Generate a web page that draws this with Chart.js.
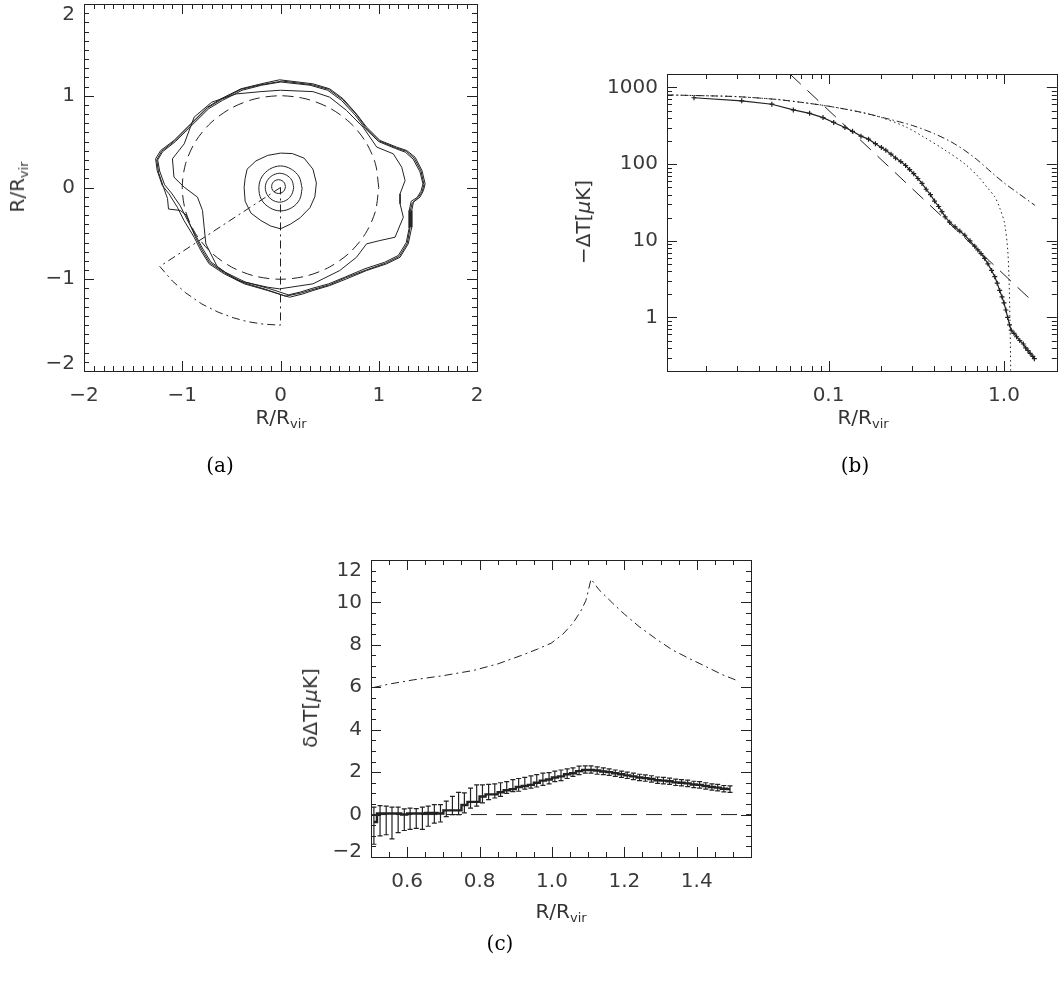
<!DOCTYPE html>
<html>
<head>
<meta charset="utf-8">
<script src="https://cdn.jsdelivr.net/npm/chart.js@4.4.0/dist/chart.umd.min.js"></script>
<style>
  body { margin: 0; background: #fff; width: 1062px; height: 997px; position: relative; overflow: hidden;
         font-family: "DejaVu Sans", sans-serif; color: #333; }
  canvas { position: absolute; }
  .lbl { position: absolute; font-size: 20px; white-space: nowrap; transform: translate(-50%, -50%); }
  .rot { transform: translate(-50%, -50%) rotate(-90deg); }
  .pan { position: absolute; font-family: "DejaVu Serif", serif; font-size: 20px; color: #000; transform: translate(-50%, -50%); }
  sub { font-size: 13px; vertical-align: -4px; }
</style>
</head>
<body>
<canvas id="chartA" width="500" height="430" style="left:0;top:0;width:500px;height:430px"></canvas>
<canvas id="chartB" width="522" height="430" style="left:540px;top:0;width:522px;height:430px"></canvas>
<canvas id="chartC" width="540" height="470" style="left:240px;top:460px;width:540px;height:470px"></canvas>

<div class="lbl" style="left:281px;top:418px">R/R<sub>vir</sub></div>
<div class="lbl rot" style="left:18px;top:187px">R/R<sub>vir</sub></div>
<div class="lbl" style="left:863px;top:418px">R/R<sub>vir</sub></div>
<div class="lbl rot" style="left:583px;top:222px">&minus;&Delta;T[<i>&mu;</i>K]</div>
<div class="lbl" style="left:561px;top:912px">R/R<sub>vir</sub></div>
<div class="lbl rot" style="left:310px;top:708px">&delta;&Delta;T[<i>&mu;</i>K]</div>

<div class="pan" style="left:220px;top:465px">(a)</div>
<div class="pan" style="left:855px;top:465px">(b)</div>
<div class="pan" style="left:500px;top:943px">(c)</div>

<script>
// ---- (a) contornos del mapa, en unidades de R/Rvir ----
const contour1 = [[-0.01,1.174],[0.33,1.13],[0.5,1.076],[0.637,0.967],[0.774,0.8],[0.876,0.658],[1.012,0.513],[1.183,0.44],[1.285,0.403],[1.37,0.33],[1.44,0.185],[1.472,0.04],[1.455,-0.033],[1.42,-0.105],[1.353,-0.16],[1.336,-0.25],[1.336,-0.433],[1.3,-0.614],[1.217,-0.76],[1.08,-0.832],[0.876,-0.905],[0.672,-0.996],[0.5,-1.069],[0.33,-1.123],[0.228,-1.16],[0.092,-1.196],[-0.13,-1.123],[-0.368,-1.05],[-0.573,-0.941],[-0.726,-0.832],[-0.811,-0.687],[-0.879,-0.542],[-0.982,-0.36],[-1.05,-0.215],[-1.135,-0.069],[-1.203,0.022],[-1.255,0.185],[-1.271,0.313],[-1.22,0.403],[-1.084,0.513],[-0.913,0.695],[-0.743,0.876],[-0.606,0.967],[-0.402,1.076],[-0.197,1.13],[-0.01,1.174]];
const contour2 = [[0.0,1.15],[0.3,1.115],[0.48,1.06],[0.62,0.95],[0.76,0.79],[0.86,0.645],[1.0,0.5],[1.17,0.425],[1.27,0.385],[1.35,0.31],[1.42,0.17],[1.45,0.04],[1.43,-0.04],[1.39,-0.11],[1.33,-0.15],[1.31,-0.25],[1.31,-0.44],[1.28,-0.6],[1.2,-0.74],[1.06,-0.815],[0.86,-0.885],[0.66,-0.975],[0.49,-1.05],[0.32,-1.1],[0.2,-1.14],[0.08,-1.17],[-0.12,-1.1],[-0.36,-1.03],[-0.56,-0.925],[-0.71,-0.81],[-0.79,-0.67],[-0.86,-0.53],[-0.95,-0.35],[-1.02,-0.2],[-1.11,-0.06],[-1.18,0.03],[-1.23,0.18],[-1.25,0.3],[-1.2,0.39],[-1.07,0.5],[-0.9,0.68],[-0.73,0.86],[-0.59,0.95],[-0.39,1.06],[-0.19,1.115],[0.0,1.15]];
const contour3 = [[0.02,1.16],[0.32,1.12],[0.49,1.07],[0.63,0.96],[0.77,0.8],[0.87,0.65],[1.01,0.505],[1.18,0.43],[1.28,0.395],[1.36,0.32],[1.43,0.18],[1.46,0.03],[1.44,-0.05],[1.4,-0.11],[1.34,-0.17],[1.32,-0.26],[1.32,-0.43],[1.29,-0.61],[1.21,-0.75],[1.07,-0.825],[0.87,-0.9],[0.66,-0.985],[0.5,-1.06],[0.32,-1.115],[0.21,-1.15],[0.05,-1.185],[-0.15,-1.11],[-0.37,-1.04],[-0.57,-0.93],[-0.72,-0.82],[-0.8,-0.68],[-0.87,-0.53],[-0.93,-0.38],[-0.96,-0.3],[-1.02,-0.25],[-1.14,-0.235],[-1.15,-0.12],[-1.19,0.0],[-1.24,0.16],[-1.26,0.3],[-1.21,0.395],[-1.08,0.505],[-0.91,0.69],[-0.74,0.87],[-0.6,0.96],[-0.4,1.07],[-0.2,1.12],[0.02,1.16]];
const contour4 = [[0.0,1.06],[0.33,1.045],[0.5,0.985],[0.672,0.84],[0.84,0.658],[0.98,0.44],[1.148,0.367],[1.234,0.221],[1.268,0.076],[1.217,-0.069],[1.217,-0.178],[1.25,-0.324],[1.166,-0.542],[1.012,-0.578],[0.876,-0.614],[0.774,-0.76],[0.603,-0.905],[0.33,-1.05],[-0.01,-1.105],[-0.13,-1.087],[-0.436,-1.014],[-0.641,-0.869],[-0.76,-0.614],[-0.777,-0.433],[-0.794,-0.25],[-0.845,-0.105],[-0.98,0.003],[-1.084,0.112],[-1.1,0.313],[-0.98,0.476],[-0.879,0.767],[-0.7,0.93],[-0.45,1.02],[-0.2,1.045],[0.0,1.06]];
const contour5 = [[0.0,0.375],[0.12,0.37],[0.24,0.32],[0.33,0.2],[0.365,0.05],[0.35,-0.1],[0.3,-0.22],[0.2,-0.33],[0.1,-0.4],[0.0,-0.45],[-0.1,-0.42],[-0.2,-0.36],[-0.3,-0.28],[-0.36,-0.15],[-0.37,0.0],[-0.36,0.1],[-0.34,0.2],[-0.25,0.29],[-0.13,0.35],[0.0,0.375]];
const contour6 = [[0.22,-0.01],[0.19,0.115],[0.11,0.2],[0.0,0.235],[-0.11,0.2],[-0.19,0.115],[-0.22,0.0],[-0.195,-0.13],[-0.11,-0.22],[0.0,-0.255],[0.115,-0.22],[0.195,-0.13],[0.22,-0.01]];
const contour7 = [[0.135,0.0],[0.115,0.08],[0.06,0.135],[-0.01,0.155],[-0.085,0.13],[-0.135,0.075],[-0.155,0.0],[-0.135,-0.08],[-0.085,-0.135],[-0.01,-0.16],[0.065,-0.135],[0.115,-0.075],[0.135,0.0]];
const contour8 = [[0.05,0.01],[0.041,0.048],[0.015,0.075],[-0.02,0.085],[-0.055,0.075],[-0.081,0.048],[-0.09,0.01],[-0.081,-0.028],[-0.055,-0.055],[-0.02,-0.065],[0.015,-0.055],[0.041,-0.028],[0.05,0.01]];
// circulo R = Rvir (trazos)
const virialCircle = [[1,0],[0.966,0.259],[0.866,0.5],[0.707,0.707],[0.5,0.866],[0.259,0.966],[0,1],[-0.259,0.966],[-0.5,0.866],[-0.707,0.707],[-0.866,0.5],[-0.966,0.259],[-1,0],[-0.966,-0.259],[-0.866,-0.5],[-0.707,-0.707],[-0.5,-0.866],[-0.259,-0.966],[0,-1],[0.259,-0.966],[0.5,-0.866],[0.707,-0.707],[0.866,-0.5],[0.966,-0.259],[1,0]];
// sector (punto-raya)
const sector = [[0,0],[-1.229,-0.86],[-1.1,-1.02],[-0.964,-1.149],[-0.8,-1.27],[-0.634,-1.359],[-0.48,-1.42],[-0.337,-1.462],[-0.17,-1.49],[0,-1.5],[0,0]];
const aTicks = [-2, -1, 0, 1, 2];
const aLabels = ["\u22122", "\u22121", "0", "1", "2"];

// ---- (b) perfil radial ----
const profR  = [0.0171,0.032,0.0475,0.063,0.078,0.093,0.107,0.124,0.137,0.153,0.169,0.185,0.2,0.212,0.227,0.241,0.258,0.275,0.29,0.306,0.323,0.341,0.36,0.381,0.402,0.424,0.443,0.462,0.49,0.526,0.56,0.598,0.64,0.681,0.71,0.74,0.775,0.81,0.85,0.886,0.915,0.945,0.975,1.0,1.025,1.05,1.075,1.1,1.14,1.18,1.23,1.29,1.33,1.37,1.41,1.46,1.49];
const profDT = [735,670,605,510,460,405,350,300,268,232,212,185,165,152,135,120,108,96,85,75,65,56,47,40,33,28,24,20.5,17.5,15.2,13.4,11.8,10,8.5,7.6,6.8,5.9,5.0,4.1,3.4,2.8,2.25,1.85,1.55,1.25,1.0,0.8,0.68,0.62,0.56,0.5,0.45,0.4,0.37,0.34,0.31,0.29];
const betaR  = [0.012,0.02,0.03,0.05,0.07,0.1,0.15,0.2,0.3,0.4,0.5,0.6,0.7,0.85,1.0,1.2,1.5];
const betaDT = [800,780,760,700,640,570,480,410,320,250,195,150,115,78,57,42,29];
const cutR   = [0.012,0.02,0.03,0.05,0.07,0.1,0.15,0.2,0.275,0.35,0.46,0.6,0.714,0.8,0.886,0.95,1.007,1.05,1.07,1.085,1.092];
const cutDT  = [800,780,760,700,640,570,480,405,307,225,153,100,68.6,50,37.5,26,17,7.6,2.8,0.63,0.2];
const powR   = [0.0602, 1.49];
const powDT  = [1500, 1.54];
const bXTicks = [0.1, 1];
const bXLabels = ["0.1", "1.0"];
const bYTicks = [1, 10, 100, 1000];
const bYLabels = ["1", "10", "100", "1000"];

// ---- (c) diferencia ----
const cR  = [0.508,0.525,0.542,0.558,0.575,0.592,0.608,0.625,0.642,0.658,0.675,0.692,0.708,0.725,0.742,0.758,0.775,0.792,0.808,0.825,0.842,0.858,0.875,0.892,0.908,0.925,0.942,0.958,0.975,0.992,1.008,1.025,1.042,1.058,1.075,1.092,1.108,1.125,1.142,1.158,1.175,1.192,1.208,1.225,1.242,1.258,1.275,1.292,1.308,1.325,1.342,1.358,1.375,1.392,1.408,1.425,1.442,1.458,1.475,1.492];
const cDT = [-0.35,0.05,0.05,0.05,0.05,0.0,0.05,0.05,0.05,0.08,0.08,0.05,0.2,0.2,0.2,0.45,0.6,0.6,0.85,0.95,0.95,1.05,1.15,1.2,1.3,1.35,1.4,1.5,1.6,1.65,1.75,1.8,1.9,1.95,2.05,2.1,2.1,2.08,2.03,2.0,1.95,1.9,1.85,1.8,1.75,1.72,1.68,1.62,1.6,1.57,1.52,1.5,1.47,1.42,1.4,1.35,1.3,1.27,1.22,1.2];
const cLo = [-1.4,-1.0,-0.95,-1.15,-0.85,-0.75,-0.7,-0.65,-0.7,-0.55,-0.4,-0.35,-0.1,0.0,0.0,0.08,0.3,0.4,0.55,0.7,0.78,0.86,1.0,1.08,1.1,1.2,1.25,1.3,1.38,1.45,1.55,1.6,1.7,1.8,1.88,1.95,1.95,1.9,1.88,1.85,1.8,1.75,1.7,1.65,1.6,1.57,1.53,1.47,1.45,1.42,1.37,1.35,1.32,1.27,1.25,1.2,1.15,1.12,1.07,1.05];
const cHi = [0.35,0.42,0.4,0.35,0.35,0.27,0.3,0.28,0.35,0.4,0.47,0.47,0.63,0.86,1.05,1.02,1.25,1.4,1.4,1.42,1.45,1.5,1.55,1.65,1.7,1.75,1.82,1.88,1.95,1.98,2.05,2.1,2.15,2.2,2.28,2.3,2.3,2.25,2.2,2.15,2.1,2.05,2.0,1.95,1.9,1.87,1.83,1.77,1.75,1.72,1.67,1.65,1.62,1.57,1.55,1.5,1.45,1.42,1.37,1.35];
const noiseR  = [0.507,0.55,0.617,0.7,0.782,0.85,0.92,0.96,0.998,1.03,1.058,1.08,1.094,1.108,1.13,1.168,1.2,1.241,1.29,1.333,1.38,1.425,1.47,1.507];
const noiseDT = [5.99,6.15,6.35,6.55,6.79,7.1,7.53,7.8,8.08,8.5,9.02,9.6,10.1,11.1,10.6,9.96,9.45,8.86,8.25,7.76,7.35,6.98,6.6,6.35];
const zeroR  = [0.5, 1.55];
const zeroDT = [0, 0];
const cXTicks = [0.6, 0.8, 1.0, 1.2, 1.4];
const cXLabels = ["0.6", "0.8", "1.0", "1.2", "1.4"];
const cYTicks = [-2, 0, 2, 4, 6, 8, 10, 12];
const cYLabels = ["\u22122", "0", "2", "4", "6", "8", "10", "12"];

const ink = "#222";
const fuente = "'DejaVu Sans', sans-serif";
Chart.defaults.font.family = fuente;
Chart.defaults.font.size = 20;
Chart.defaults.color = "#3a3a3a";

function pts(list) { return list.map(p => ({ x: p[0], y: p[1] })); }
function zip(xs, ys) { return xs.map((v, i) => ({ x: v, y: ys[i] })); }
function linea(data, extra) {
  return Object.assign({ data, showLine: true, pointRadius: 0, borderColor: ink, borderWidth: 1, tension: 0, fill: false }, extra || {});
}
function pasos(min, max, step) {
  const out = [];
  for (let v = min; v <= max + 1e-9; v += step) out.push(+v.toFixed(6));
  return out;
}
function menoresLog(lo, hi) {
  const out = [];
  for (let d = -3; d <= 4; d++) for (let m = 2; m <= 9; m++) {
    const v = m * Math.pow(10, d);
    if (v >= lo && v <= hi) out.push(v);
  }
  return out;
}

// marco estilo IDL: caja y marcas hacia adentro en los cuatro lados
const marcoIDL = {
  id: "marcoIDL",
  afterDatasetsDraw(chart, args, o) {
    const { ctx, chartArea: a } = chart;
    const x = chart.scales.x, y = chart.scales.y;
    ctx.save();
    ctx.strokeStyle = ink;
    ctx.lineWidth = 1;
    ctx.strokeRect(Math.round(a.left) + 0.5, Math.round(a.top) + 0.5, Math.round(a.right - a.left), Math.round(a.bottom - a.top));
    ctx.beginPath();
    const enX = (vals, len) => vals.forEach(v => {
      const p = Math.round(x.getPixelForValue(v)) + 0.5;
      if (p < a.left - 0.5 || p > a.right + 0.5) return;
      ctx.moveTo(p, a.bottom); ctx.lineTo(p, a.bottom - len);
      ctx.moveTo(p, a.top); ctx.lineTo(p, a.top + len);
    });
    const enY = (vals, len) => vals.forEach(v => {
      const p = Math.round(y.getPixelForValue(v)) + 0.5;
      if (p < a.top - 0.5 || p > a.bottom + 0.5) return;
      ctx.moveTo(a.left, p); ctx.lineTo(a.left + len, p);
      ctx.moveTo(a.right, p); ctx.lineTo(a.right - len, p);
    });
    enX(o.xMajor, 10); enX(o.xMinor, 5);
    enY(o.yMajor, 10); enY(o.yMinor, 5);
    ctx.stroke();
    // barras de error
    if (o.err) {
      ctx.beginPath();
      ctx.lineWidth = 1.2;
      o.err.r.forEach((r, i) => {
        const px = x.getPixelForValue(r);
        const y1 = y.getPixelForValue(o.err.lo[i]), y2 = y.getPixelForValue(o.err.hi[i]);
        ctx.moveTo(px, y1); ctx.lineTo(px, y2);
        ctx.moveTo(px - 2.5, y1); ctx.lineTo(px + 2.5, y1);
        ctx.moveTo(px - 2.5, y2); ctx.lineTo(px + 2.5, y2);
      });
      ctx.stroke();
    }
    ctx.restore();
  }
};

// las etiquetas extremas del eje y se corren hacia adentro, como en IDL
function ejes(xType, xMin, xMax, xTicks, xLabels, yType, yMin, yMax, yTicks, yLabels, yWidth, xHeight, xPad, corrArriba, corrAbajo) {
  const last = yTicks.length - 1;
  return {
    x: {
      type: xType, min: xMin, max: xMax,
      afterBuildTicks: s => { s.ticks = xTicks.map(v => ({ value: v })); },
      afterFit: s => { s.height = xHeight; s.paddingLeft = 0; s.paddingRight = 0; },
      ticks: { autoSkip: false, maxRotation: 0, padding: xPad, callback: (v, i) => xLabels[i] },
      grid: { display: false, drawTicks: false }, border: { display: false }
    },
    y: {
      type: yType, min: yMin, max: yMax,
      afterBuildTicks: s => { s.ticks = yTicks.map(v => ({ value: v })); },
      afterFit: s => { s.width = yWidth; s.paddingTop = 0; s.paddingBottom = 0; },
      ticks: {
        autoSkip: false, padding: 9,
        callback: (v, i) => {
          if (i === last && corrArriba) return ["", yLabels[i]];
          if (i === 0 && corrAbajo) return [yLabels[i], ""];
          return yLabels[i];
        },
        font: c => {
          let lh = 1.2;
          if (c.index === last && corrArriba) lh = (corrArriba * 2) + "px";
          if (c.index === 0 && corrAbajo) lh = (corrAbajo * 2) + "px";
          return { family: fuente, size: 20, lineHeight: lh };
        }
      },
      grid: { display: false, drawTicks: false }, border: { display: false }
    }
  };
}

const base = {
  responsive: false, animation: false,
  plugins: { legend: { display: false }, tooltip: { enabled: false } }
};

// (a)
new Chart(document.getElementById("chartA"), {
  type: "scatter",
  data: { datasets: [
    linea(pts(contour1)), linea(pts(contour2)), linea(pts(contour3)), linea(pts(contour4)),
    linea(pts(contour5)), linea(pts(contour6), { tension: 0.35 }), linea(pts(contour7), { tension: 0.35 }),
    linea(pts(contour8), { tension: 0.35 }),
    linea(pts(virialCircle), { borderDash: [11, 6], tension: 0.3 }),
    linea(pts(sector), { borderDash: [8, 4, 2, 4] })
  ] },
  options: Object.assign({}, base, {
    layout: { padding: { top: 4, right: 23, bottom: 0, left: 0 } },
    scales: ejes("linear", -2, 2, aTicks, aLabels, "linear", -2, 2, aTicks, aLabels, 84, 59, 13, 11, 7),
    plugins: Object.assign({}, base.plugins, {
      marcoIDL: { xMajor: aTicks, xMinor: pasos(-2, 2, 0.1), yMajor: aTicks, yMinor: pasos(-2, 2, 0.1) }
    })
  }),
  plugins: [marcoIDL]
});

// (b)
new Chart(document.getElementById("chartB"), {
  type: "scatter",
  data: { datasets: [
    linea(zip(powR, powDT), { borderDash: [15, 9] }),
    linea(zip(betaR, betaDT), { borderDash: [7, 3, 1.5, 3], tension: 0.3 }),
    linea(zip(cutR, cutDT), { borderDash: [1.5, 3], tension: 0.3 }),
    linea(zip(profR, profDT), { pointStyle: "cross", pointRadius: 2.5, pointBorderColor: ink, pointBorderWidth: 1.2, borderWidth: 1.2 })
  ] },
  options: Object.assign({}, base, {
    layout: { padding: { top: 74, right: 3, bottom: 0, left: 0 } },
    scales: ejes("logarithmic", 0.012, 2, bXTicks, bXLabels, "logarithmic", 0.2, 1500, bYTicks, bYLabels, 127, 59, 13, 0, 0),
    plugins: Object.assign({}, base.plugins, {
      marcoIDL: { xMajor: [0.01, 0.1, 1], xMinor: menoresLog(0.012, 2), yMajor: bYTicks, yMinor: menoresLog(0.2, 1500) }
    })
  }),
  plugins: [marcoIDL]
});

// (c)
new Chart(document.getElementById("chartC"), {
  type: "scatter",
  data: { datasets: [
    linea(zip(zeroR, zeroDT), { borderDash: [16, 9] }),
    linea(zip(noiseR, noiseDT), { borderDash: [8, 4, 2, 4] }),
    linea(zip(cR, cDT), { borderWidth: 2.4, stepped: "middle" })
  ] },
  options: Object.assign({}, base, {
    layout: { padding: { top: 100, right: 29, bottom: 0, left: 0 } },
    scales: ejes("linear", 0.5, 1.55, cXTicks, cXLabels, "linear", -2, 12, cYTicks, cYLabels, 131, 73, 13, 11, 5),
    plugins: Object.assign({}, base.plugins, {
      marcoIDL: { xMajor: cXTicks, xMinor: pasos(0.5, 1.55, 0.05), yMajor: cYTicks, yMinor: pasos(-2, 12, 0.5),
                  err: { r: cR, lo: cLo, hi: cHi } }
    })
  }),
  plugins: [marcoIDL]
});
</script>
</body>
</html>
